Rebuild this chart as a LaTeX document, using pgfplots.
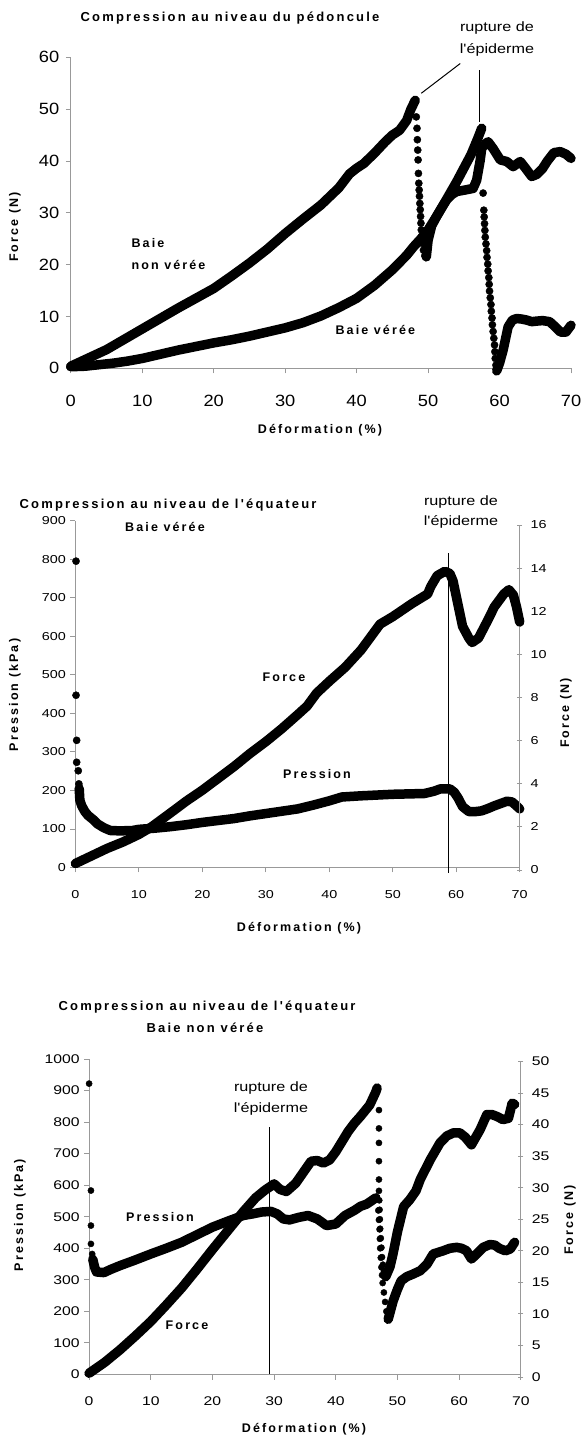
\documentclass[border=0pt]{standalone}
\usepackage{fontspec}
\setmainfont{Liberation Sans}
\usepackage{pgfplots}
\pgfplotsset{compat=1.18}

% fonts: regular (slightly widened) and spaced bold for titles and labels
\newfontfamily\regfont{Liberation Sans}[FakeStretch=1.2]
\newfontfamily\tickfontA{Liberation Sans}[FakeStretch=1.12]
\newfontfamily\tickfontB{Liberation Sans}[FakeStretch=1.25]
\newfontfamily\boldfont{Liberation Sans Bold}[LetterSpace=17]
\newcommand\lbl[2][12.5]{{\fontsize{#1}{#1}\boldfont #2}}
\newcommand\reg[1]{{\fontsize{13.5}{15}\regfont #1}}

\pgfplotsset{
  base/.style={
    scale only axis, xmin=0, xmax=70, clip=false,
    axis line style={draw=black!40, line width=0.9pt},
    major tick style={draw=black!40, line width=0.9pt},
    major tick length=5pt,
    /pgf/number format/assume math mode=true,
    /pgf/number format/1000 sep={},
  },
  leftax/.style={base, axis x line*=bottom, axis y line*=left, tick align=outside,
    xtick={0,10,...,70}},
  rightax/.style={base, axis x line=none, axis y line*=right, tick align=center},
  band/.style={black, line width=9.5pt, line join=round, line cap=round, mark=none},
  dots/.style={black, only marks, mark=*, mark size=3.6pt},
  dotsS/.style={black, only marks, mark=*, mark size=3.1pt},
}

\begin{document}
\begin{tikzpicture}[x=1pt,y=1pt]
\useasboundingbox (0,0) rectangle (582,1438);

%% ---------- Compression au niveau du pédoncule ----------
\begin{axis}[leftax, at={(70.8pt,1069.7pt)}, anchor=south west,
  width=500.2pt, height=311pt, ymin=0, ymax=60, ytick={0,10,...,60},
  ticklabel style={font=\fontsize{16.3}{17}\tickfontA},
  xticklabel style={yshift=-18pt}, yticklabel style={xshift=-3pt}]
% baie non vérée
\addplot[band] coordinates {(0,0.4)(2.5,2.0)(5,3.6)(7.5,5.6)(10,7.6)(12.5,9.6)(15,11.6)
  (17.5,13.5)(20,15.4)(22.5,17.8)(25,20.3)(27.5,23.0)(30,26.0)(32.5,28.8)(35,31.5)
  (37.5,34.8)(39,37.5)(40,38.6)(41,39.5)(42.5,41.5)(44,43.7)(45,45.0)(46,45.9)
  (47,47.8)(47.6,50.0)(48.2,51.7)};
\addplot[dots] coordinates {(48.35,48.5)(48.45,46.3)(48.5,44.1)(48.55,42.1)(48.6,40.2)
  (48.65,37.6)(48.7,35.7)(48.75,34.4)(48.8,33.2)(48.85,31.8)(48.9,30.6)(48.95,29.3)
  (49.0,28.0)(49.05,26.7)(49.1,25.4)(49.2,24.1)(49.35,22.8)(49.55,21.7)};
\addplot[band] coordinates {(49.75,21.5)(50.0,24.7)(50.5,27.5)(51.2,29.3)(52.0,31.2)
  (52.6,32.5)(53.3,33.5)(54.0,34.1)(55.2,34.4)(56.3,34.7)(56.8,36.3)(57.3,40.2)
  (57.5,42.4)(58.0,43.3)(58.4,43.7)(59.1,42.4)(60.1,40.2)(61.0,39.9)(61.9,38.9)
  (62.9,39.9)(63.8,38.3)(64.5,37.0)(65.2,37.4)(66.0,38.5)(66.7,40.0)(67.6,41.6)
  (68.5,41.8)(69.3,41.3)(70,40.5)};
% baie vérée
\addplot[band] coordinates {(0,0.3)(2,0.4)(4,0.7)(6,1.0)(8,1.4)(10,1.9)(12.5,2.7)
  (15,3.5)(17.5,4.2)(20,4.9)(22.5,5.5)(25,6.2)(27.5,7.0)(30,7.8)(32.5,8.8)(35,10.1)
  (37.5,11.7)(40,13.5)(42.5,16.0)(45,19.0)(47,21.8)(48,23.5)(49,25.0)(50,26.7)
  (51,28.9)(52,31.2)(53,33.6)(54,36.0)(55,38.6)(56,41.2)(57,44.5)(57.5,46.3)};
\addplot[dots] coordinates {(57.7,33.8)(57.8,30.5)(57.85,29.2)(57.9,27.9)(57.95,26.6)
  (58.0,25.3)(58.1,24.0)(58.2,22.7)(58.25,21.4)(58.35,20.1)(58.4,18.8)(58.5,17.5)
  (58.55,16.2)(58.6,14.9)(58.7,13.6)(58.8,12.3)(58.85,11.0)(58.95,9.7)(59.0,8.4)
  (59.1,7.1)(59.2,5.8)(59.3,4.5)(59.35,3.2)(59.4,1.9)(59.5,0.6)};
\addplot[band] coordinates {(59.6,-0.5)(60.0,1.0)(60.5,3.5)(61.2,8.0)(61.8,9.3)
  (62.4,9.6)(63.1,9.5)(63.8,9.3)(64.5,9.0)(65.2,9.1)(66,9.2)(67,9.0)(67.8,8.0)
  (68.5,7.0)(69.3,7.0)(70,8.3)};
% rupture de l'épiderme
\draw[black, line width=1pt] (axis cs:49.05,53.06) -- (axis cs:54.5,58.8);
\draw[black, line width=1pt] (axis cs:57.26,47.6) -- (axis cs:57.26,57.5);
\end{axis}
\node at (230,1420) {\lbl[13]{Compression au niveau du pédoncule}};
\node at (497,1410) {\reg{rupture de}};
\node at (497,1388) {\reg{l'épiderme}};
\node[anchor=west] at (128,1195) {\lbl{Baie}};
\node[anchor=west] at (128,1173) {\lbl{non vérée}};
\node[anchor=west] at (332,1108) {\lbl{Baie vérée}};
\node[rotate=90] at (15,1211) {\lbl{Force (N)}};
\node at (320,1008) {\lbl{Déformation (\%)}};

%% ---------- Equateur, baie vérée ----------
\begin{axis}[leftax, at={(75.4pt,570.5pt)}, anchor=south west,
  width=444.3pt, height=346.8pt, ymin=0, ymax=900, ytick={0,100,...,900},
  ticklabel style={font=\fontsize{11.5}{12}\tickfontB},
  xticklabel style={yshift=-14pt}, yticklabel style={xshift=-1pt}]
\addplot[dots] coordinates {(0.1,795)(0.1,447)(0.2,330)(0.2,273)(0.45,251)(0.55,217)};
\addplot[band] coordinates {(0.6,205)(0.7,175)(1.0,160)(1.5,145)(2,135)(2.75,125)
  (3.5,113)(4.5,103)(5.5,96)(7,95)(9,96)(10,99)(12.5,102)(15,106)(17.5,111)(20,117)
  (22.5,122)(25,127)(27.5,134)(30,140)(32.5,146)(35,152)(37.5,162)(40,173)(42,183)
  (45,186)(47.5,188)(50,190)(52.5,191)(55,192)(56.5,198)(57.5,204)(59,204)(59.7,195)
  (60.3,180)(61,158)(62,145)(63,145)(64,147)(65,153)(66,160)(67,166)(68,172)
  (68.8,170)(69.5,160)(70,152)};
\draw[black, line width=1pt] (axis cs:58.8,-13) -- (axis cs:58.8,815);
\end{axis}
\begin{axis}[rightax, at={(75.4pt,568pt)}, anchor=south west,
  width=444.3pt, height=345pt, ymin=0, ymax=16, ytick={0,2,...,16},
  ticklabel style={font=\fontsize{11.5}{12}\tickfontB},
  yticklabel style={xshift=5pt}]
\addplot[band] coordinates {(0,0.3)(2.5,0.65)(5,1.0)(7.5,1.3)(10,1.65)(12,2.0)(15,2.65)
  (17.5,3.2)(20,3.7)(22.5,4.25)(25,4.8)(27.5,5.4)(30,5.95)(32.5,6.55)(35,7.2)
  (36.5,7.6)(38,8.2)(40,8.75)(42.5,9.4)(45,10.2)(46.5,10.8)(48,11.4)(50,11.75)
  (53,12.35)(55.5,12.8)(56,13.15)(57,13.65)(58.2,13.85)(59,13.75)(59.5,13.4)(60,12.7)
  (61,11.3)(62,10.75)(62.5,10.55)(63.5,10.75)(65,11.6)(66,12.2)(67.5,12.8)(68.3,13.0)
  (69,12.75)(69.5,12.2)(70,11.5)};
\end{axis}
\node at (168,933) {\lbl[13]{Compression au niveau de l'équateur}};
\node at (165,911) {\lbl{Baie vérée}};
\node at (461,936) {\reg{rupture de}};
\node at (461,916) {\reg{l'épiderme}};
\node at (284,761) {\lbl{Force}};
\node at (317,664) {\lbl{Pression}};
\node at (299,510) {\lbl{Déformation (\%)}};
\node[rotate=90] at (15,743) {\lbl{Pression (kPa)}};
\node[rotate=90] at (566,725) {\lbl{Force (N)}};

%% ---------- Equateur, baie non vérée ----------
\begin{axis}[leftax, at={(89.1pt,63.5pt)}, anchor=south west,
  width=431.7pt, height=315.5pt, ymin=0, ymax=1000, ytick={0,100,...,1000},
  ticklabel style={font=\fontsize{12.6}{13}\tickfontB},
  xticklabel style={yshift=-14pt}, yticklabel style={xshift=-1pt}]
\addplot[dotsS] coordinates {(0,922)(0.3,583)(0.3,472)(0.3,414)(0.5,382)};
\addplot[band] coordinates {(0.6,365)(0.9,340)(1.2,325)(2.4,323)(3.5,333)(5,345)
  (7.5,363)(10,382)(12.5,400)(15,419)(17.5,443)(20,467)(22.5,486)(25,504)(26.5,509)
  (28,515)(29.5,517)(30.5,509)(31.5,493)(32.5,490)(34,498)(35.5,504)(37,493)
  (38.5,472)(40,477)(41.5,504)(43,520)(44,533)(45,540)(46.5,560)};
\addplot[dotsS] coordinates {(46.9,520)(47.0,490)(47.1,460)(47.15,430)(47.2,400)
  (47.3,370)(47.4,340)(47.5,315)(47.6,290)(47.8,260)(48.0,230)(48.2,200)};
\addplot[band] coordinates {(48.5,175)(49.3,233)(50,270)(50.6,297)(51.5,310)(52.5,318)
  (53.7,329)(54.8,350)(55.8,382)(57.4,392)(58.5,400)(59.6,403)(60.4,400)(61.2,392)
  (62,366)(63,385)(63.9,403)(65,412)(65.8,410)(66.5,400)(67.5,392)(68.3,398)(69,419)};
\draw[black, line width=1pt] (axis cs:29.3,0) -- (axis cs:29.3,785);
\end{axis}
\begin{axis}[rightax, at={(89.1pt,61pt)}, anchor=south west,
  width=431.7pt, height=315.5pt, ymin=0, ymax=50, ytick={0,5,...,50},
  ticklabel style={font=\fontsize{12.6}{13}\tickfontB},
  yticklabel style={xshift=5pt}]
\addplot[band] coordinates {(0,0.6)(2.5,2.3)(5,4.3)(7.5,6.5)(10,8.8)(12.5,11.4)
  (15,14.1)(17.5,17.1)(20,20.2)(22.5,23.2)(25,26.2)(27,28.4)(28.5,29.6)(30,30.6)
  (31,29.7)(32,29.4)(33.5,30.7)(35,32.8)(36,34.2)(37,34.3)(38,33.9)(39,34.4)
  (40,35.7)(41,37.3)(42,38.9)(43,40.2)(44,41.3)(45.5,43.1)(46.5,45.2)(46.7,45.8)};
\addplot[dotsS] coordinates {(47.0,42.3)(47.0,39.4)(47.0,37.1)(47.0,34.2)(47.0,31.3)
  (47.0,29.5)(47.05,28)(47.1,26.5)(47.15,25)(47.2,23.5)(47.3,22)(47.4,20.5)(47.5,19)
  (47.65,17.8)(47.8,16.8)};
\addplot[band] coordinates {(48.1,15.9)(48.8,17.5)(49.3,19.6)(50,23.0)(51,27.0)
  (52,28.1)(53,29.5)(53.7,31.3)(55.3,34.4)(56.9,37.1)(58,38.2)(59.1,38.7)(60.1,38.7)
  (61,38.0)(62,36.8)(63.4,39.2)(64.5,41.6)(65.3,41.6)(66.1,41.3)(67.1,40.8)(68,41.0)
  (68.6,43.4)(69,43.2)};
\end{axis}
\node at (207,431) {\lbl[13]{Compression au niveau de l'équateur}};
\node at (205,410) {\lbl[13]{Baie non vérée}};
\node at (271,350) {\reg{rupture de}};
\node at (271,329) {\reg{l'épiderme}};
\node at (160,221) {\lbl{Pression}};
\node at (187,113) {\lbl{Force}};
\node at (304,9) {\lbl{Déformation (\%)}};
\node[rotate=90] at (20,223) {\lbl{Pression (kPa)}};
\node[rotate=90] at (570,218) {\lbl{Force (N)}};
\end{tikzpicture}
\end{document}
